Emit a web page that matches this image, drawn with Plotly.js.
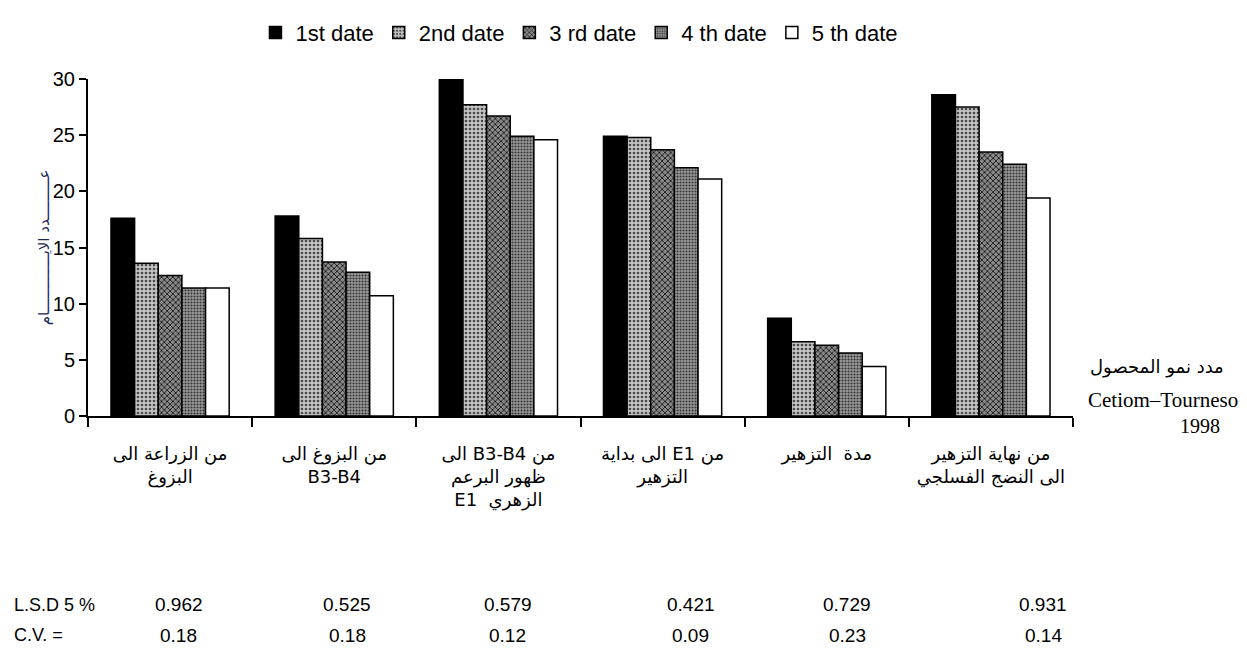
<!DOCTYPE html>
<html>
<head>
<meta charset="utf-8">
<script src="https://cdn.plot.ly/plotly-3.0.1.min.js"></script>
<style>html,body{margin:0;padding:0;background:#fff;}#chart{width:1247px;height:651px;}</style>
</head>
<body>
<div id="chart"></div>
<script>
const categoryLines = [
  ["من الزراعة الى", "البزوغ"],
  ["من البزوغ الى", "B3-B4"],
  ["من B3-B4 الى", "ظهور البرعم", "الزهري  E1"],
  ["من E1 الى بداية", "التزهير"],
  ["مدة  التزهير"],
  ["من نهاية التزهير", "الى النضج الفسلجي"]
];
const seriesNames = ["1st date", "2nd date", "3 rd date", "4 th date", "5 th date"];
const date1 = [17.6, 17.8, 30.0, 24.9, 8.7, 28.6];
const date2 = [13.6, 15.8, 27.7, 24.8, 6.6, 27.5];
const date3 = [12.5, 13.7, 26.7, 23.7, 6.3, 23.5];
const date4 = [11.4, 12.8, 24.9, 22.1, 5.6, 22.4];
const date5 = [11.4, 10.7, 24.6, 21.1, 4.4, 19.4];
const lsdValues = ["0.962", "0.525", "0.579", "0.421", "0.729", "0.931"];
const cvValues = ["0.18", "0.18", "0.12", "0.09", "0.23", "0.14"];
const yTitle = "عـــــــــدد الايـــــــــــــام";
const sideNote = ["مدد نمو المحصول", "Cetiom–Tourneso", "1998"];

// wrap each line in a right-to-left embedding so mixed Arabic/Latin lines keep their order
const RLE = "\u202B", PDF = "\u202C";
const categories = categoryLines.map(lines => lines.map(l => RLE + l + PDF).join("<br>"));

const allSeries = [date1, date2, date3, date4, date5];
const styles = [
  {color: "#000000", pattern: {shape: ""}},
  {color: "#b0b0b0", pattern: {shape: ".", bgcolor: "#c4c4c4", fgcolor: "#4a4a4a", size: 4, solidity: 0.35}},
  {color: "#555555", pattern: {shape: "x", bgcolor: "#8a8a8a", fgcolor: "#1a1a1a", size: 4, solidity: 0.4}},
  {color: "#7a7a7a", pattern: {shape: ".", bgcolor: "#9a9a9a", fgcolor: "#333333", size: 3, solidity: 0.4}},
  {color: "#ffffff", pattern: {shape: ""}}
];

const traces = allSeries.map((vals, i) => ({
  type: "bar",
  name: seriesNames[i],
  x: categories,
  y: vals,
  marker: {
    color: styles[i].color,
    pattern: styles[i].pattern,
    line: {color: "#000", width: 1.5}
  },
  hoverinfo: "x+y+name"
}));

const statX = [0.092, 0.263, 0.426, 0.612, 0.771, 0.97];
const statFont = {family: "Liberation Sans, Arial", size: 19, color: "#000"};
const annotations = [];
annotations.push({xref: "paper", yref: "paper", x: -0.077, y: -0.56, xanchor: "left", yanchor: "middle",
  text: "L.S.D 5 %", showarrow: false, font: {family: "Liberation Sans, Arial", size: 18, color: "#000"}});
annotations.push({xref: "paper", yref: "paper", x: -0.077, y: -0.65, xanchor: "left", yanchor: "middle",
  text: "C.V. =", showarrow: false, font: {family: "Liberation Sans, Arial", size: 18, color: "#000"}});
lsdValues.forEach((v, i) => annotations.push({xref: "paper", yref: "paper", x: statX[i], y: -0.56,
  xanchor: "center", yanchor: "middle", text: v, showarrow: false, font: statFont}));
cvValues.forEach((v, i) => annotations.push({xref: "paper", yref: "paper", x: statX[i], y: -0.65,
  xanchor: "center", yanchor: "middle", text: v, showarrow: false, font: statFont}));
annotations.push({xref: "paper", yref: "paper", x: 1.085, y: 0.145, xanchor: "center", yanchor: "middle",
  text: sideNote[0], showarrow: false, font: {family: "DejaVu Sans, Noto Sans", size: 18, color: "#000"}});
annotations.push({xref: "paper", yref: "paper", x: 1.091, y: 0.047, xanchor: "center", yanchor: "middle",
  text: sideNote[1], showarrow: false, font: {family: "Liberation Serif, Times New Roman", size: 21, color: "#000"}});
annotations.push({xref: "paper", yref: "paper", x: 1.129, y: -0.03, xanchor: "center", yanchor: "middle",
  text: sideNote[2], showarrow: false, font: {family: "Liberation Serif, Times New Roman", size: 20, color: "#000"}});

const layout = {
  width: 1247, height: 651,
  margin: {l: 88, r: 174, t: 79, b: 235},
  paper_bgcolor: "#fff", plot_bgcolor: "#fff",
  barmode: "group",
  bargap: 0.28,
  bargroupgap: 0,
  showlegend: true,
  legend: {orientation: "h", x: 0.17, y: 1.2, xanchor: "left", yanchor: "top",
    font: {family: "Liberation Sans, Arial", size: 22, color: "#000"},
    itemwidth: 30, tracegroupgap: 0, bgcolor: "rgba(0,0,0,0)"},
  xaxis: {
    type: "category",
    tickson: "boundaries",
    ticks: "outside", ticklen: 9, tickwidth: 2, tickcolor: "#000",
    showline: true, linecolor: "#000", linewidth: 2,
    showgrid: false, zeroline: false,
    ticklabelstandoff: 20,
    tickfont: {family: "DejaVu Sans, Noto Sans", size: 18, color: "#000"}
  },
  yaxis: {
    range: [0, 30], tickvals: [0, 5, 10, 15, 20, 25, 30],
    ticks: "outside", ticklen: 7, tickwidth: 2, tickcolor: "#000",
    showline: true, linecolor: "#000", linewidth: 2,
    showgrid: false, zeroline: false,
    tickfont: {family: "Liberation Sans, Arial", size: 20, color: "#000"},
    title: {text: yTitle, standoff: 0, font: {family: "DejaVu Sans, Noto Sans", size: 15, color: "#1a2a5a"}}
  },
  annotations: annotations
};

Plotly.newPlot("chart", traces, layout, {displayModeBar: false, staticPlot: true});
</script>
</body>
</html>
